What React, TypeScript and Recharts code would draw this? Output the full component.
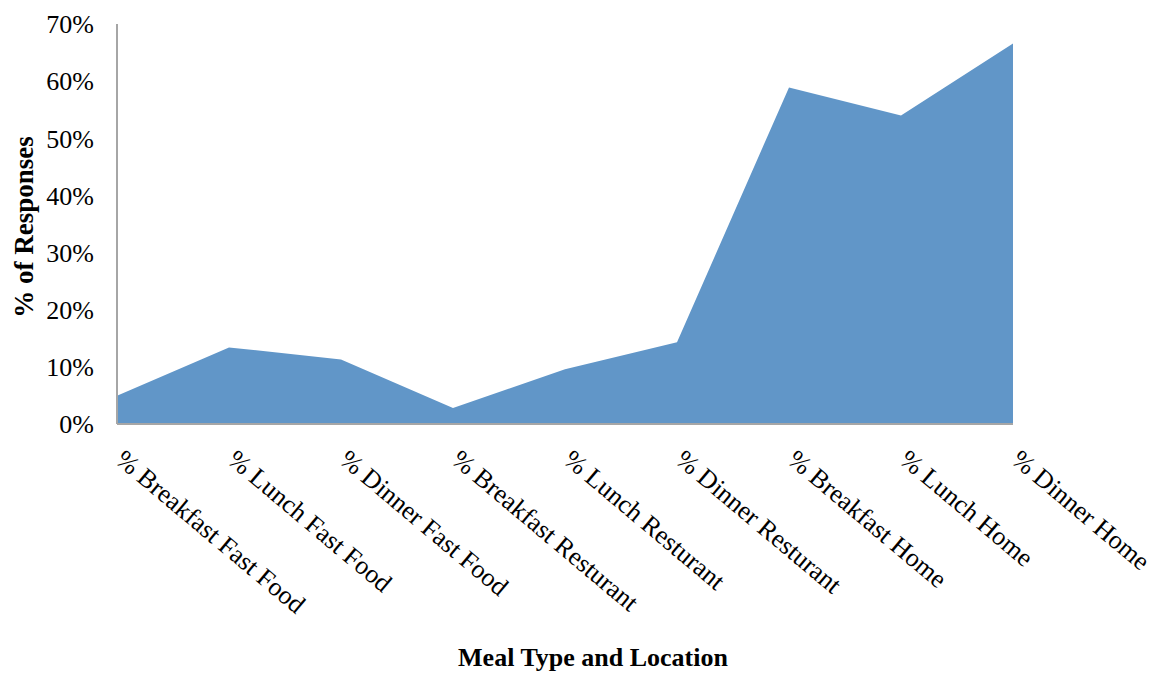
import React from 'react';
import { AreaChart, Area, XAxis, YAxis, Label } from 'recharts';

const categories = [
  '% Breakfast Fast Food',
  '% Lunch Fast Food',
  '% Dinner Fast Food',
  '% Breakfast Resturant',
  '% Lunch Resturant',
  '% Dinner Resturant',
  '% Breakfast Home',
  '% Lunch Home',
  '% Dinner Home',
];
const responses = [4.95, 13.4, 11.3, 2.8, 9.6, 14.3, 58.9, 54.0, 66.6];
const yTicks = [0, 10, 20, 30, 40, 50, 60, 70];

const data = categories.map((name, i) => ({ name, value: responses[i] }));

const FONT = '"Liberation Serif", "Times New Roman", serif';

const XTick = (props: any) => {
  const { x, y, payload } = props;
  const x0 = x - 3;
  const y0 = y + 36;
  return (
    <text
      x={x0}
      y={y0}
      transform={`rotate(40, ${x0}, ${y0})`}
      textAnchor="start"
      fontFamily={FONT}
      fontSize={26}
      fill="#000"
    >
      {payload.value}
    </text>
  );
};

export default function App() {
  return (
    <div style={{ position: 'absolute', left: 0, top: 0, width: 1150, height: 673, background: '#fff' }}>
      <AreaChart
        width={1150}
        height={673}
        data={data}
        margin={{ top: 24, right: 137, bottom: 0, left: 0 }}
      >
        <XAxis
          dataKey="name"
          height={249}
          tickLine={false}
          tickSize={0}
          axisLine={{ stroke: '#a6a6a6', strokeWidth: 2 }}
          tick={<XTick />}
          interval={0}
        >
          <Label
            content={() => (
              <text
                x={593}
                y={666}
                textAnchor="middle"
                fontFamily={FONT}
                fontSize={26}
                fontWeight="bold"
                fill="#000"
              >
                Meal Type and Location
              </text>
            )}
          />
        </XAxis>
        <YAxis
          width={117}
          domain={[0, 70]}
          ticks={yTicks}
          interval={0}
          tickFormatter={(v: number) => `${v}%`}
          tickLine={false}
          tickSize={0}
          tickMargin={23}
          axisLine={{ stroke: '#a6a6a6', strokeWidth: 2 }}
          tick={{ fill: '#000', fontSize: 26, fontFamily: FONT }}
        >
          <Label
            content={() => (
              <text
                x={33}
                y={227}
                transform="rotate(-90, 33, 227)"
                textAnchor="middle"
                fontFamily={FONT}
                fontSize={27}
                fontWeight="bold"
                fill="#000"
              >
                % of Responses
              </text>
            )}
          />
        </YAxis>
        <Area
          type="linear"
          dataKey="value"
          stroke="none"
          fill="#6196c8"
          fillOpacity={1}
          isAnimationActive={false}
        />
      </AreaChart>
    </div>
  );
}
